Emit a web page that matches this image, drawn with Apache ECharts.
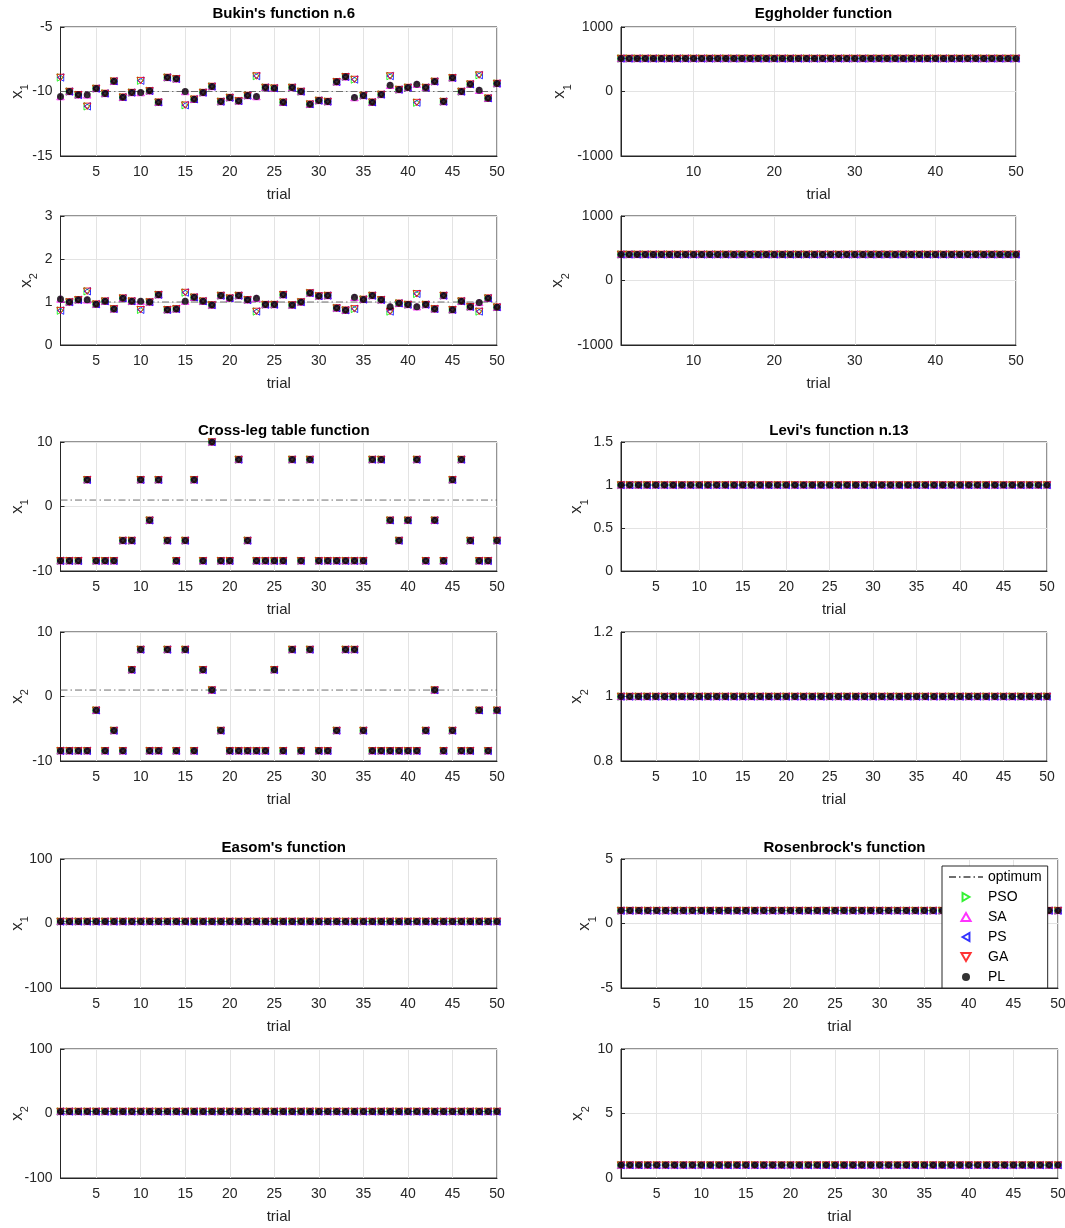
<!DOCTYPE html>
<html><head><meta charset="utf-8">
<script src="https://cdn.jsdelivr.net/npm/echarts@6/dist/echarts.min.js"></script>
<style>html,body{margin:0;padding:0;background:#fff}#c{width:1065px;height:1228px}</style>
</head><body><div id="c"></div>
<script>
// ---------------- data ----------------
const trials = [1,2,3,4,5,6,7,8,9,10,11,12,13,14,15,16,17,18,19,20,21,22,23,24,25,26,27,28,29,30,31,32,33,34,35,36,37,38,39,40,41,42,43,44,45,46,47,48,49,50];
const xTicksFive = [5,10,15,20,25,30,35,40,45,50];
const xTicksTen = [10,20,30,40,50];
const titles = ["Bukin's function n.6", "Eggholder function", "Cross-leg table function", "Levi's function n.13", "Easom's function", "Rosenbrock's function"];
const methods = ['PSO','SA','PS','GA','PL'];
const optimumX1 = [-10, 512, 1, 1, 3.14, 1];
const optimumX2 = [1, 404.2, 1, 1, 3.14, 1];
const yMinX1 = [-15, -1000, -10, 0, -100, -5];
const yMaxX1 = [-5, 1000, 10, 1.5, 100, 5];
const yStepX1 = [5, 1000, 10, 0.5, 100, 5];
const yMinX2 = [0, -1000, -10, 0.8, -100, 0];
const yMaxX2 = [3, 1000, 10, 1.2, 100, 10];
const yStepX2 = [1, 1000, 10, 0.2, 100, 5];

// Bukin: PL and SA values
const bukinX1 = [-10.39,-10.0,-10.26,-10.26,-9.77,-10.15,-9.2,-10.44,-10.08,-10.08,-9.95,-10.83,-8.91,-9.02,-10.0,-10.6,-10.08,-9.61,-10.78,-10.47,-10.73,-10.31,-10.39,-9.69,-9.74,-10.83,-9.69,-10.0,-10.98,-10.7,-10.78,-9.25,-8.86,-10.47,-10.31,-10.83,-10.23,-9.51,-9.85,-9.69,-9.43,-9.69,-9.22,-10.78,-8.94,-10.0,-9.43,-9.9,-10.52,-9.38];
const bukinX2 = [1.07,1.0,1.05,1.05,0.95,1.02,0.84,1.09,1.02,1.02,1.0,1.17,0.82,0.84,1.02,1.11,1.02,0.93,1.15,1.09,1.15,1.05,1.09,0.94,0.94,1.17,0.93,1.0,1.21,1.14,1.15,0.86,0.81,1.11,1.06,1.15,1.05,0.89,0.97,0.94,0.89,0.94,0.84,1.15,0.82,1.02,0.89,0.99,1.09,0.88];
// Bukin: trials where PSO / PS / GA ended elsewhere
const bukinAltTrials = [1,4,10,15,23,34,38,41,48];
const bukinAltX1 = [-8.91,-11.15,-9.16,-11.06,-8.80,-9.07,-8.80,-10.86,-8.73];
const bukinAltX2 = [0.80,1.25,0.82,1.22,0.78,0.84,0.78,1.19,0.78];

const eggX1 = [512,512,512,512,512,512,512,512,512,512,512,512,512,512,512,512,512,512,512,512,512,512,512,512,512,512,512,512,512,512,512,512,512,512,512,512,512,512,512,512,512,512,512,512,512,512,512,512,512,512];
const eggX2 = [404.2,404.2,404.2,404.2,404.2,404.2,404.2,404.2,404.2,404.2,404.2,404.2,404.2,404.2,404.2,404.2,404.2,404.2,404.2,404.2,404.2,404.2,404.2,404.2,404.2,404.2,404.2,404.2,404.2,404.2,404.2,404.2,404.2,404.2,404.2,404.2,404.2,404.2,404.2,404.2,404.2,404.2,404.2,404.2,404.2,404.2,404.2,404.2,404.2,404.2];

const crossX1 = [-8.42,-8.42,-8.42,4.14,-8.42,-8.42,-8.42,-5.28,-5.28,4.14,-2.14,4.14,-5.28,-8.42,-5.28,4.14,-8.42,10,-8.42,-8.42,7.28,-5.28,-8.42,-8.42,-8.42,-8.42,7.28,-8.42,7.28,-8.42,-8.42,-8.42,-8.42,-8.42,-8.42,7.28,7.28,-2.14,-5.28,-2.14,7.28,-8.42,-2.14,-8.42,4.14,7.28,-5.28,-8.42,-8.42,-5.28];
const crossX2 = [-8.42,-8.42,-8.42,-8.42,-2.14,-8.42,-5.28,-8.42,4.14,7.28,-8.42,-8.42,7.28,-8.42,7.28,-8.42,4.14,1,-5.28,-8.42,-8.42,-8.42,-8.42,-8.42,4.14,-8.42,7.28,-8.42,7.28,-8.42,-8.42,-5.28,7.28,7.28,-5.28,-8.42,-8.42,-8.42,-8.42,-8.42,-8.42,-5.28,1,-8.42,-5.28,-8.42,-8.42,-2.14,-8.42,-2.14];

const leviX1 = [1,1,1,1,1,1,1,1,1,1,1,1,1,1,1,1,1,1,1,1,1,1,1,1,1,1,1,1,1,1,1,1,1,1,1,1,1,1,1,1,1,1,1,1,1,1,1,1,1,1];
const leviX2 = [1,1,1,1,1,1,1,1,1,1,1,1,1,1,1,1,1,1,1,1,1,1,1,1,1,1,1,1,1,1,1,1,1,1,1,1,1,1,1,1,1,1,1,1,1,1,1,1,1,1];
const easomX1 = [3.14,3.14,3.14,3.14,3.14,3.14,3.14,3.14,3.14,3.14,3.14,3.14,3.14,3.14,3.14,3.14,3.14,3.14,3.14,3.14,3.14,3.14,3.14,3.14,3.14,3.14,3.14,3.14,3.14,3.14,3.14,3.14,3.14,3.14,3.14,3.14,3.14,3.14,3.14,3.14,3.14,3.14,3.14,3.14,3.14,3.14,3.14,3.14,3.14,3.14];
const easomX2 = [3.14,3.14,3.14,3.14,3.14,3.14,3.14,3.14,3.14,3.14,3.14,3.14,3.14,3.14,3.14,3.14,3.14,3.14,3.14,3.14,3.14,3.14,3.14,3.14,3.14,3.14,3.14,3.14,3.14,3.14,3.14,3.14,3.14,3.14,3.14,3.14,3.14,3.14,3.14,3.14,3.14,3.14,3.14,3.14,3.14,3.14,3.14,3.14,3.14,3.14];
const rosenX1 = [1,1,1,1,1,1,1,1,1,1,1,1,1,1,1,1,1,1,1,1,1,1,1,1,1,1,1,1,1,1,1,1,1,1,1,1,1,1,1,1,1,1,1,1,1,1,1,1,1,1];
const rosenX2 = [1,1,1,1,1,1,1,1,1,1,1,1,1,1,1,1,1,1,1,1,1,1,1,1,1,1,1,1,1,1,1,1,1,1,1,1,1,1,1,1,1,1,1,1,1,1,1,1,1,1];

// ---------------- build ----------------
const valuesX1 = [bukinX1, eggX1, crossX1, leviX1, easomX1, rosenX1];
const valuesX2 = [bukinX2, eggX2, crossX2, leviX2, easomX2, rosenX2];
const FONT = '"Liberation Sans", Arial, Helvetica, sans-serif';
const TXT = '#262626';

// layout (pixels)
const colLeft = [60.5, 621];
const colRight = [497, 1016, 497, 1047, 497, 1058]; // per function
const rowTop = [27, 216, 442, 632, 859, 1049];
const rowH = 129;
const titleTop = [1, 418, 835];
const nameGapsX1 = [30, 48, 30, 31, 30, 23];
const nameGapsX2 = [21, 50, 30, 31, 30, 30];

const methodColor = {PSO:'#00ee00', SA:'#ff00ff', PS:'#0000ff', GA:'#ff0000', PL:'#000000'};
const methodSymbol = {
  PSO: 'path://M1,0L-0.5,0.866L-0.5,-0.866Z',     // right-pointing
  SA:  'path://M0,-1L0.866,0.5L-0.866,0.5Z',      // up
  PS:  'path://M-1,0L0.5,-0.866L0.5,0.866Z',      // left
  GA:  'path://M0,1L-0.866,-0.5L0.866,-0.5Z',     // down
  PL:  'circle'
};

const grids = [], xAxes = [], yAxes = [], series = [], titleList = [];

function methodValues(f, v, m) {
  const base = (v === 0 ? valuesX1 : valuesX2)[f].slice();
  if (f === 0 && (m === 'PSO' || m === 'PS' || m === 'GA')) {
    const alt = v === 0 ? bukinAltX1 : bukinAltX2;
    bukinAltTrials.forEach((t, i) => { base[t - 1] = alt[i]; });
  }
  return base;
}
const fmt = v => String(+(+v).toFixed(6));

for (let f = 0; f < 6; f++) {
  const col = f % 2;
  const left = colLeft[col];
  const right = colRight[f];
  const xt = f === 1 ? xTicksTen : xTicksFive;
  titleList.push({
    text: titles[f], left: (left + right) / 2, top: titleTop[Math.floor(f / 2)], textAlign: 'center',
    textStyle: {fontFamily: FONT, fontSize: 15, fontWeight: 'bold', color: '#000'}
  });
  for (let v = 0; v < 2; v++) {
    const g = f * 2 + v;
    const row = Math.floor(f / 2) * 2 + v;
    grids.push({left: left, top: rowTop[row], width: right - left, height: rowH,
      containLabel: false, outerBoundsMode: 'none',
      show: true, borderColor: TXT, borderWidth: 1, backgroundColor: '#fff'});
    xAxes.push({
      type: 'value', gridIndex: g, min: 1, max: 50,
      axisLine: {show: true, onZero: false, lineStyle: {color: TXT, width: 1}},
      axisTick: {show: true, inside: true, length: 4, customValues: xt, lineStyle: {color: TXT}},
      axisLabel: {customValues: xt, color: TXT, fontSize: 14, fontFamily: FONT, margin: 9, formatter: fmt},
      splitLine: {show: false},
      name: 'trial', nameLocation: 'middle', nameGap: 31, nameMoveOverlap: false,
      nameTextStyle: {color: TXT, fontSize: 15, fontFamily: FONT}
    });
    yAxes.push({
      type: 'value', gridIndex: g,
      min: v === 0 ? yMinX1[f] : yMinX2[f],
      max: v === 0 ? yMaxX1[f] : yMaxX2[f],
      interval: v === 0 ? yStepX1[f] : yStepX2[f],
      axisLine: {show: true, onZero: false, lineStyle: {color: TXT, width: 1}},
      axisTick: {show: true, inside: true, length: 4, lineStyle: {color: TXT}},
      axisLabel: {color: TXT, fontSize: 14, fontFamily: FONT, margin: 8, formatter: fmt},
      splitLine: {show: true, lineStyle: {color: '#e3e3e3', width: 1}},
      name: '{x|x}{s|' + (v + 1) + '}', nameLocation: 'middle', nameMoveOverlap: false,
      nameGap: v === 0 ? nameGapsX1[f] : nameGapsX2[f],
      nameTextStyle: {color: TXT, fontFamily: FONT,
        rich: {x: {fontSize: 17, lineHeight: 18, verticalAlign: 'top', color: TXT, fontFamily: FONT},
               s: {fontSize: 11, lineHeight: 22, verticalAlign: 'bottom', color: TXT, fontFamily: FONT}}}
    });
    const opt = v === 0 ? optimumX1[f] : optimumX2[f];
    series.push({
      name: 'optimum', type: 'line', xAxisIndex: g, yAxisIndex: g,
      data: [[1, opt], [50, opt]], symbol: 'none', silent: true, animation: false, z: 2,
      itemStyle: {color: '#6e6e6e'},
      lineStyle: {color: '#6e6e6e', width: 1, type: [7, 3, 1.5, 3]},
      markLine: {silent: true, symbol: ['none', 'none'], animation: false,
        label: {show: false}, emphasis: {disabled: true},
        lineStyle: {color: '#e3e3e3', width: 1, type: 'solid'},
        data: xt.map(t => ({xAxis: t}))}
    });
    methods.forEach((m, mi) => {
      const vals = methodValues(f, v, m);
      const isPL = m === 'PL';
      series.push({
        name: m, type: 'scatter', xAxisIndex: g, yAxisIndex: g, animation: false, silent: true,
        z: 3 + mi,
        data: trials.map((t, i) => [t, vals[i]]),
        symbol: methodSymbol[m],
        symbolKeepAspect: true,
        symbolSize: isPL ? 7 : 7.5,
        itemStyle: isPL ? {color: '#000'} : {color: 'rgba(255,255,255,0)', borderColor: methodColor[m], borderWidth: 1}
      });
    });
  }
}

const chart = echarts.init(document.getElementById('c'), null, {renderer: 'canvas'});
chart.setOption({
  animation: false,
  backgroundColor: '#fff',
  textStyle: {fontFamily: FONT},
  title: titleList,
  grid: grids, xAxis: xAxes, yAxis: yAxes, series: series,
  legend: {
    left: 942, top: 866, orient: 'vertical', z: 20,
    backgroundColor: '#fff', borderColor: TXT, borderWidth: 1, borderRadius: 0,
    padding: [4, 6, 4, 6], itemWidth: 34, itemHeight: 8, itemGap: 6,
    selectedMode: false, symbolKeepAspect: true,
    textStyle: {color: '#000', fontSize: 14, fontFamily: FONT, lineHeight: 14},
    data: [
      {name: 'optimum', itemStyle: {opacity: 0}},
      'PSO', 'SA', 'PS', 'GA',
      {name: 'PL', icon: 'circle', itemStyle: {color: '#000'}}
    ]
  }
});
</script></body></html>
